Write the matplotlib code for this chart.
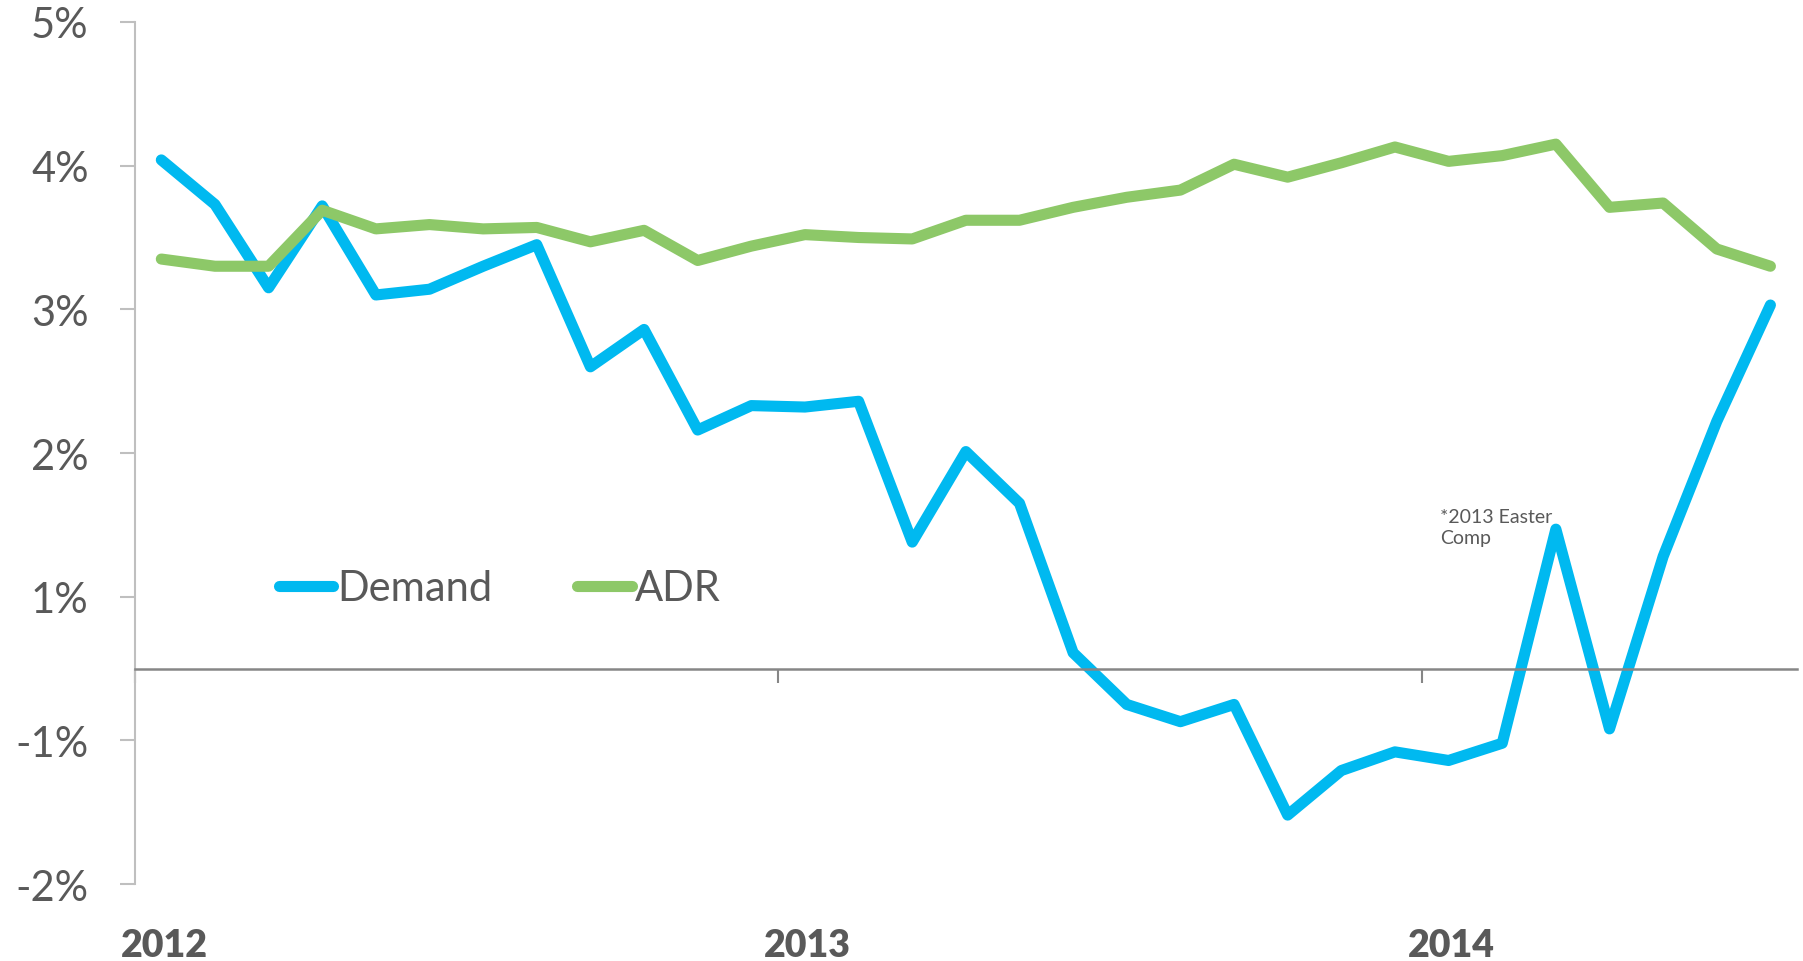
import numpy as np
import matplotlib.pyplot as plt
import matplotlib.transforms as mtransforms

plt.rcParams['font.family'] = ['Lato', 'DejaVu Sans']

# monthly points, Jan 2012 .. Jul 2014 (values in %)
demand = [3.54, 3.23, 2.65, 3.22, 2.60, 2.64, 2.80, 2.95, 2.10, 2.36,
          1.66, 1.83, 1.82, 1.86, 0.88, 1.51, 1.15, 0.11, -0.25, -0.37,
          -0.25, -1.02, -0.71, -0.58, -0.64, -0.52, 0.97, -0.42, 0.78, 1.72,
          2.53]
adr = [2.85, 2.80, 2.80, 3.19, 3.06, 3.09, 3.06, 3.07, 2.97, 3.05,
       2.84, 2.94, 3.02, 3.00, 2.99, 3.12, 3.12, 3.21, 3.28, 3.33,
       3.51, 3.42, 3.52, 3.63, 3.53, 3.57, 3.65, 3.21, 3.24, 2.92,
       2.80]
years = ['2012', '2013', '2014']
ytick_vals = [4.5, 3.5, 2.5, 1.5, 0.5, -0.5, -1.5]
ytick_labels = ['5%', '4%', '3%', '2%', '1%', '-1%', '-2%']
note = '*2013 Easter\nComp'

text_col = '#595959'
blue = '#00B9F0'
green = '#8DC868'

fig = plt.figure(figsize=(18.03, 9.62), dpi=100)
ax = fig.add_axes([0.0746, 0.080, 0.9222, 0.8961])

x = np.arange(len(demand))
ax.plot(x, demand, color=blue, lw=8, solid_capstyle='round',
        solid_joinstyle='round', label='Demand')
ax.plot(x, adr, color=green, lw=8, solid_capstyle='round',
        solid_joinstyle='round', label='ADR')

ax.set_xlim(-0.5, len(demand) - 0.5)
ax.set_ylim(-1.5, 4.5)

ax.spines['top'].set_visible(False)
ax.spines['right'].set_visible(False)
ax.spines['left'].set_color('#BFBFBF')
ax.spines['left'].set_linewidth(1.5)
ax.spines['bottom'].set_position(('data', 0))
ax.spines['bottom'].set_color('#868686')
ax.spines['bottom'].set_linewidth(1.8)

ax.set_yticks(ytick_vals)
ax.set_yticklabels(ytick_labels)
ax.tick_params(axis='y', direction='out', length=11, width=1.5,
               color='#BFBFBF', pad=22, labelsize=30, labelcolor=text_col)

year_pos = [12 * i for i in range(len(years))]
ax.set_xticks([p - 0.5 for p in year_pos])
ax.set_xticklabels([''] * len(years))
ax.tick_params(axis='x', direction='out', length=10, width=1.5, color='#868686')

trans = mtransforms.blended_transform_factory(ax.transData, ax.transAxes)
for p, yr in zip(year_pos, years):
    ax.text(p + 0.05, -0.071, yr, transform=trans, ha='center', va='center',
            fontsize=27, fontweight='heavy', color=text_col, clip_on=False)

ax.text(23.84, 1.12, note, ha='left', va='top', fontsize=14,
        color=text_col, linespacing=1.3)

leg = ax.legend(loc='center left', bbox_to_anchor=(0.0871, 0.343), ncol=2,
                frameon=False, fontsize=30, handlelength=1.3,
                handletextpad=0.08, columnspacing=2.05, borderpad=0,
                borderaxespad=0)
for t in leg.get_texts():
    t.set_color(text_col)

fig.savefig('out.png', dpi=100)
